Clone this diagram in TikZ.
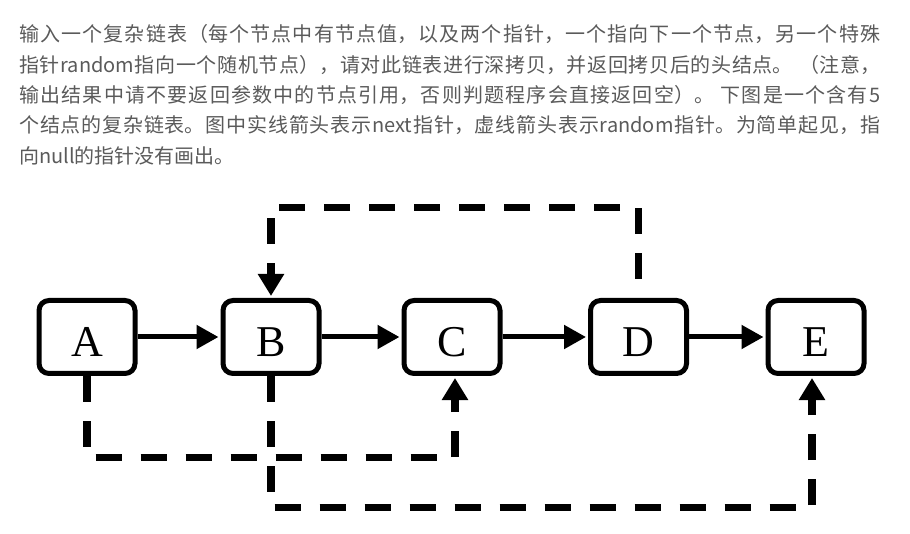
\documentclass[tikz,border=0pt]{standalone}
\usepackage{fontspec}
\setmainfont{Liberation Serif}
\newfontfamily\cjk{Noto Sans CJK SC}
\usetikzlibrary{arrows.meta}
\definecolor{txtgray}{RGB}{90,90,90}
\XeTeXlinebreaklocale "zh"
\XeTeXlinebreakskip=0pt plus 4pt
\newcommand{\jline}[1]{{\rightskip=0pt\parfillskip=0pt\noindent #1\par}}
\begin{document}
\begin{tikzpicture}[x=1pt,y=-1pt,
  listnode/.style={draw, line width=5pt, rounded corners=10pt,
    minimum width=96pt, minimum height=73pt, inner sep=0pt,
    font=\fontsize{44}{44}\selectfont, text height=38pt, text depth=0pt},
  nextptr/.style={line width=5pt, -{Triangle[length=22pt,width=23pt]}, shorten >=2pt},
  randptr/.style={line width=7.5pt, dash pattern=on 26pt off 19pt,
    -{Triangle[length=22pt,width=25pt]}, shorten >=2pt},
  txtline/.style={anchor=base west, inner sep=0pt, text width=861pt,
    font=\cjk\fontsize{20}{30}\selectfont, text=txtgray}
]
\path[use as bounding box] (0,0) rectangle (910,534);

% description text
\node[txtline] (t1) at (19,42) {\jline{输入一个复杂链表（每个节点中有节点值，以及两个指针，一个指向下一个节点，另一个特殊}};
\node[txtline] (t2) at (19,72.5) {\jline{指针random指向一个随机节点），请对此链表进行深拷贝，并返回拷贝后的头结点。 （注意，}};
\node[txtline] (t3) at (19,103) {\jline{输出结果中请不要返回参数中的节点引用，否则判题程序会直接返回空）。 下图是一个含有5}};
\node[txtline] (t4) at (19,133) {\jline{个结点的复杂链表。图中实线箭头表示next指针，虚线箭头表示random指针。为简单起见，指}};
\node[txtline] (t5) at (19,163.5) {向null的指针没有画出。};

% list nodes
\node[listnode] (A) at (87,337) {A};
\node[listnode] (B) at (271,337) {B};
\node[listnode] (C) at (452,337) {C};
\node[listnode] (D) at (638.5,337) {D};
\node[listnode] (E) at (816,337) {E};

% next pointers
\draw[nextptr] (A) -- (B);
\draw[nextptr] (B) -- (C);
\draw[nextptr] (C) -- (D);
\draw[nextptr] (D) -- (E);

% random pointers
\draw[randptr] (A.south) -- ++(0,81.5) -| ([xshift=3pt]C.south);
\draw[randptr] (B.south) -- ++(0,131.5) -| ([xshift=-4pt]E.south);
\draw[randptr, dash phase=26pt] (D.north) -- ++(0,-90.5) -| (B.north);
\end{tikzpicture}
\end{document}
